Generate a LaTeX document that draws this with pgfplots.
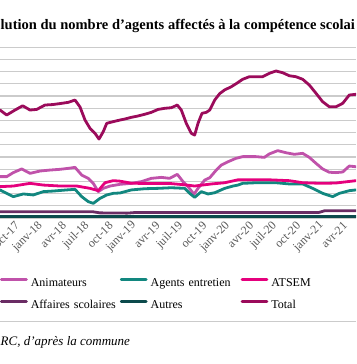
\documentclass[border=0pt]{standalone}
\usepackage{fontspec}
\setmainfont{Liberation Serif}
\usepackage{pgfplots}
\pgfplotsset{compat=1.18}
\definecolor{cAnim}{HTML}{C052AA}
\definecolor{cAgents}{HTML}{12877F}
\definecolor{cATSEM}{HTML}{E5007D}
\definecolor{cAff}{HTML}{6A2C64}
\definecolor{cAutres}{HTML}{0C4A4C}
\definecolor{cTotal}{HTML}{9B0B5B}
\definecolor{cGrid}{HTML}{CBCBCB}
\definecolor{cTick}{HTML}{595959}
\begin{document}
\begin{tikzpicture}[x=1pt,y=1pt]
\path (0,0) rectangle (356,364);
\node[overlay, anchor=base west, inner sep=0pt, font=\fontsize{14.5}{16}\selectfont\bfseries] at (0.5,334.7) {lution du nombre d’agents affectés à la compétence scolai};
\begin{axis}[
  overlay,
  at={(0pt,146pt)}, anchor=south west, scale only axis,
  width=356pt, height=170.8pt,
  xmin=-2.305, xmax=43.28, ymin=0, ymax=14,
  axis x line*=bottom, axis y line*=left,
  x axis line style={draw=none}, y axis line style={draw=none},
  major tick length=0pt,
  ytick={0,1,...,14}, yticklabel=\empty,
  ymajorgrids=true, xmajorgrids=false,
  y grid style={cGrid, line width=1.2pt},
  xtick={0,3,...,42},
  xticklabels={oct-17,janv-18,avr-18,juil-18,oct-18,janv-19,avr-19,juil-19,oct-19,janv-20,avr-20,juil-20,oct-20,janv-21,avr-21},
  xticklabel style={rotate=45, anchor=east, inner sep=1pt, font=\fontsize{12}{14}\selectfont, text=cTick},
  xticklabel shift=5pt,
  every axis plot/.append style={line width=2.8pt, line join=round, line cap=round},
  legend columns=3,
  legend image code/.code={\draw[#1, line width=2.8pt, line cap=round] (0pt,4pt) -- (25pt,4pt);},
  legend style={at={(0,-0.3513)}, anchor=north west, draw=none, fill=none, inner sep=0pt, outer sep=0pt,
    font=\fontsize{12}{14}\selectfont,
    nodes={inner sep=0pt, text height=8pt, text depth=2.5pt},
    /tikz/row sep=11.5pt,
    /tikz/every odd column/.append style={column sep=3pt},
    /tikz/column 2/.style={text width=89pt},
    /tikz/column 4/.style={text width=90pt}},
  legend cell align=left,
]
% Animateurs
\addplot[cAnim] coordinates {
(-2.30,3.39)(-1.45,3.39)(-0.60,3.72)(0.47,4.02)(1.54,3.66)(2.82,3.85)(4.10,3.93)(5.38,3.99)(6.44,4.07)(7.30,4.15)
(8.16,3.52)(9.00,3.25)(9.64,2.84)(10.28,2.16)(10.92,2.43)(11.78,2.62)(13.06,2.76)(14.51,2.84)(15.79,2.98)(17.07,3.25)
(18.35,3.33)(19.42,3.25)(20.40,3.58)(21.13,2.98)(21.77,2.57)(22.54,1.95)(23.05,2.43)(23.91,3.11)(24.55,3.30)(25.39,3.93)
(26.03,4.34)(26.89,4.61)(27.91,4.89)(28.77,5.03)(30.47,5.03)(31.54,4.97)(32.18,5.25)(33.25,5.52)(34.31,5.35)(35.38,5.22)
(36.45,5.30)(37.30,4.97)(38.16,4.48)(39.01,4.02)(39.86,3.75)(40.72,3.72)(41.58,3.77)(42.42,4.26)(43.28,4.20)};
\addlegendentry{Animateurs}
% Agents entretien
\addplot[cAgents] coordinates {
(-2.30,2.30)(-1.45,2.02)(-0.60,1.75)(0.68,1.97)(1.96,1.89)(3.24,2.16)(4.52,2.21)(6.23,2.30)(7.30,2.35)(8.16,1.75)
(9.00,1.34)(9.64,1.20)(10.50,1.61)(11.36,1.89)(12.20,2.02)(13.06,2.05)(14.51,2.30)(16.22,2.40)(17.93,2.43)(19.63,2.48)
(21.34,2.43)(21.98,2.02)(22.62,1.69)(23.47,2.16)(24.33,1.97)(25.19,2.07)(26.47,2.43)(27.53,2.62)(28.17,2.70)(28.77,2.84)
(30.47,2.89)(33.03,2.89)(34.74,2.79)(36.45,2.79)(37.73,2.43)(39.01,2.02)(40.29,1.75)(41.15,2.02)(42.42,2.24)(43.28,2.30)};
\addlegendentry{Agents entretien}
% ATSEM
\addplot[cATSEM] coordinates {
(-2.30,2.57)(-0.60,2.62)(1.54,2.84)(3.24,2.70)(5.38,2.62)(7.52,2.62)(9.22,2.43)(10.28,2.24)(11.14,2.89)(12.20,3.06)
(13.06,3.02)(14.51,2.85)(17.07,2.82)(19.63,2.82)(21.34,2.72)(22.62,2.62)(24.75,2.79)(26.47,2.89)(28.17,3.13)(32.18,3.13)
(34.74,3.06)(36.45,2.89)(39.01,2.84)(40.72,2.87)(43.28,3.06)};
\addlegendentry{ATSEM}
% Affaires scolaires
\addplot[cAff] coordinates {
(-2.30,0.52)(9.5,0.52)(10.5,0.42)(14.0,0.40)(15.0,0.45)(38.5,0.45)(39.3,0.60)(43.28,0.60)};
\addlegendentry{Affaires scolaires}
% Autres
\addplot[cAutres] coordinates {
(-2.30,0.13)(43.28,0.13)};
\addlegendentry{Autres}
% Total
\addplot[cTotal] coordinates {
(-2.30,8.85)(-1.45,8.44)(-0.38,8.85)(0.60,9.20)(1.54,8.85)(2.39,8.90)(3.46,9.26)(4.48,9.30)(5.60,9.40)(6.44,9.48)
(7.30,9.67)(7.94,9.10)(8.58,8.03)(9.22,7.35)(9.86,6.94)(10.37,6.47)(10.92,7.08)(11.36,7.76)(12.20,7.90)(13.06,8.03)
(13.66,8.11)(14.51,8.25)(15.36,8.36)(16.22,8.50)(17.07,8.66)(17.93,8.90)(18.78,8.99)(19.63,9.04)(20.40,9.26)(20.91,8.85)
(21.55,7.76)(22.19,6.94)(22.62,6.80)(23.05,7.76)(23.56,8.58)(24.11,8.66)(24.55,8.85)(25.19,9.67)(25.83,10.20)(26.47,10.50)
(27.31,10.76)(27.91,11.00)(28.77,11.37)(29.62,11.58)(30.47,11.58)(31.33,11.58)(32.18,11.86)(33.03,12.05)(33.89,11.91)(34.74,11.66)
(35.60,11.58)(36.45,11.37)(37.30,10.90)(38.16,10.22)(39.01,9.53)(39.86,9.12)(40.72,9.12)(41.58,9.40)(42.42,10.08)(43.28,10.14)};
\addlegendentry{Total}
\end{axis}
\draw[overlay, cGrid, line width=1pt] (0,42) -- (356,42);
\node[overlay, anchor=base west, inner sep=0pt, font=\fontsize{13}{15}\selectfont\itshape] at (0.5,19) {RC, d’après la commune};
\end{tikzpicture}
\end{document}
